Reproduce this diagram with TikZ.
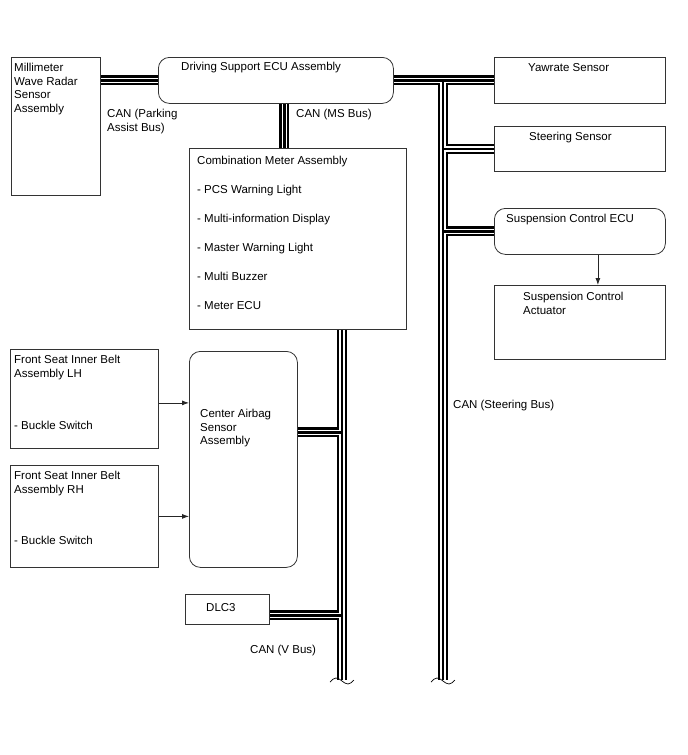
\documentclass[tikz,border=0pt]{standalone}
\usepackage{fontspec}
\setmainfont{Liberation Sans}
\usetikzlibrary{arrows.meta,positioning,backgrounds}

\tikzset{
  unit/.style={draw=black!80,line width=0.8pt,anchor=north west,inner sep=0pt},
  ecu/.style={unit,rounded corners=11pt},
  txt/.style={anchor=north west,inner sep=0pt,align=left,font=\fontsize{11.5}{13.5}\selectfont},
  sig/.style={draw=black!85,line width=0.8pt,-{Latex[length=7pt,width=5pt]}},
}

\begin{document}
\begin{tikzpicture}[x=1pt,y=-1pt]
  \useasboundingbox (0,0) rectangle (688,755);

  % units
  \node[unit,minimum width=89pt,minimum height=138pt] (radar) at (11,57) {};
  \node[ecu,minimum width=235pt,minimum height=46pt] (ds) at (158,57) {};
  \node[unit,minimum width=217pt,minimum height=181pt] (meter) at (189,148) {};
  \node[unit,minimum width=171pt,minimum height=46pt] (yaw) at (494,57) {};
  \node[unit,minimum width=171pt,minimum height=45pt] (steer) at (494,126) {};
  \node[ecu,minimum width=171pt,minimum height=46pt] (susp) at (494,208) {};
  \node[unit,minimum width=171pt,minimum height=74pt] (act) at (494,285) {};
  \node[unit,minimum width=148pt,minimum height=99pt] (lh) at (10,349) {};
  \node[unit,minimum width=148pt,minimum height=102pt] (rh) at (10,465) {};
  \node[ecu,minimum width=108pt,minimum height=216pt] (airbag) at (189,351) {};
  \node[unit,minimum width=84pt,minimum height=30pt] (dlc) at (185,594) {};

  % names
  \node[txt] (radarname) at ([shift={(3pt,-6pt)}]radar.north west) {Millimeter\\Wave Radar\\Sensor\\Assembly};
  \node[txt] (dsname) at ([shift={(23pt,-5pt)}]ds.north west) {Driving Support ECU Assembly};
  \node[txt] (metername) at ([shift={(8pt,-8pt)}]meter.north west) {Combination Meter Assembly\\[15.5pt]- PCS Warning Light\\[15.5pt]- Multi-information Display\\[15.5pt]- Master Warning Light\\[15.5pt]- Multi Buzzer\\[15.5pt]- Meter ECU};
  \node[txt] (yawname) at ([shift={(34pt,-6pt)}]yaw.north west) {Yawrate Sensor};
  \node[txt] (steername) at ([shift={(35pt,-6pt)}]steer.north west) {Steering Sensor};
  \node[txt] (suspname) at ([shift={(12pt,-6pt)}]susp.north west) {Suspension Control ECU};
  \node[txt] (actname) at ([shift={(29pt,-7pt)}]act.north west) {Suspension Control\\Actuator};
  \node[txt] (lhname) at ([shift={(4pt,-6pt)}]lh.north west) {Front Seat Inner Belt\\Assembly LH\\[39pt]- Buckle Switch};
  \node[txt] (rhname) at ([shift={(4pt,-6pt)}]rh.north west) {Front Seat Inner Belt\\Assembly RH\\[38pt]- Buckle Switch};
  \node[txt] (airbagname) at ([shift={(11pt,-58pt)}]airbag.north west) {Center Airbag\\Sensor\\Assembly};
  \node[txt] (dlcname) at ([shift={(21pt,-9pt)}]dlc.north west) {DLC3};

  % bus labels
  \node[txt] (canpa) at (107,109) {CAN (Parking\\Assist Bus)};
  \node[txt] (canms) at (296,109) {CAN (MS Bus)};
  \node[txt] (canv) at (250,645) {CAN (V Bus)};
  \node[txt] (canst) at (453,400) {CAN (Steering Bus)};

  % bus ends
  \coordinate (vend) at (342,680);
  \coordinate (send) at (443,680);

  % CAN lines, three passes
  \begin{scope}[on background layer]
    \foreach \lw/\col in {10pt/black,5.4pt/white,2.2pt/black}{
      \draw[line width=\lw,draw=\col] (radar.east |- ds.west) -- (ds.west);
      \draw[line width=\lw,draw=\col] ([xshift=8.5pt]ds.south) -- ([xshift=8.5pt]ds.south |- meter.north);
      \draw[line width=\lw,draw=\col] (ds.east) -- (yaw.west);
      \draw[line width=\lw,draw=\col] (send |- ds.east) -- (send);
      \draw[line width=\lw,draw=\col] (send |- steer.west) -- (steer.west);
      \draw[line width=\lw,draw=\col] (send |- susp.west) -- (susp.west);
      \draw[line width=\lw,draw=\col] (vend |- meter.south) -- (vend);
      \draw[line width=\lw,draw=\col] ([yshift=27pt]airbag.east) -- ([yshift=27pt]airbag.east -| vend);
      \draw[line width=\lw,draw=\col] ([yshift=-6pt]dlc.east) -- ([yshift=-6pt]dlc.east -| vend);
    }
  \end{scope}
  \draw[line width=0.7pt] ([shift={(-12,2)}]vend) sin ++(6,-4) cos ++(6,3) sin ++(6,3) cos ++(6,-4);
  \draw[line width=0.7pt] ([shift={(-12,2)}]send) sin ++(6,-4) cos ++(6,3) sin ++(6,3) cos ++(6,-4);

  % signal lines
  \draw[sig] ([yshift=-4pt]lh.east) -- ([yshift=-4pt]lh.east -| airbag.west);
  \draw[sig] (rh.east) -- (rh.east -| airbag.west);
  \draw[sig] ([xshift=18pt]susp.south) -- ([xshift=18pt]susp.south |- act.north);
\end{tikzpicture}
\end{document}
